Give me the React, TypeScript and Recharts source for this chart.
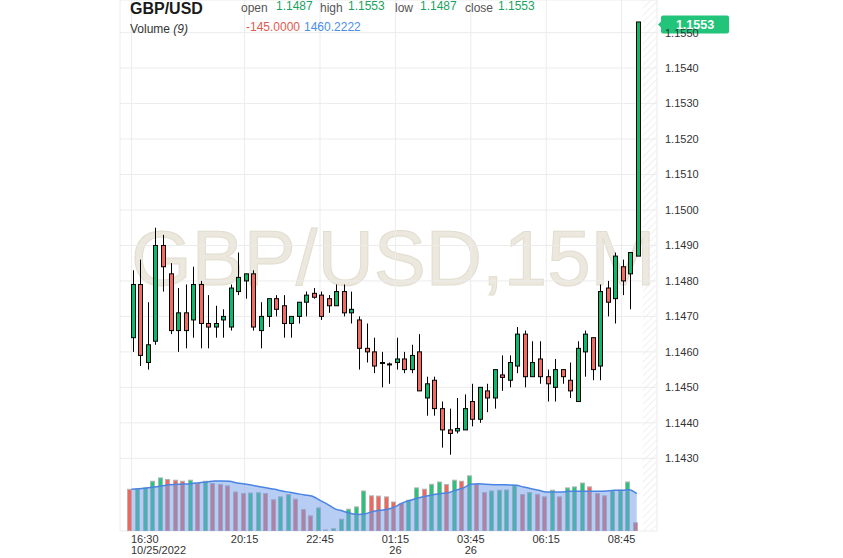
import { ComposedChart, Bar, Area, XAxis, YAxis, CartesianGrid, ReferenceLine, ReferenceArea } from "recharts";

// GBP/USD 15M candles, 16:30 10/25 -> 09:15 10/26
const opens = [
  1.1464, 1.1479, 1.1457, 1.1463, 1.149, 1.1482, 1.1466, 1.1471, 1.1469, 1.1479,
  1.1468, 1.1467, 1.1469, 1.1467, 1.1477, 1.148, 1.1482, 1.1466, 1.147, 1.1475,
  1.1473, 1.1468, 1.147, 1.1474, 1.14765, 1.1476, 1.1475, 1.1473, 1.1477, 1.1471,
  1.1469, 1.1461, 1.146, 1.1457, 1.14566, 1.1457, 1.1458, 1.1455, 1.146, 1.1447,
  1.1452, 1.1444, 1.1438, 1.14377, 1.1438, 1.1446, 1.1441, 1.1449, 1.1447, 1.14535,
  1.1452, 1.1456, 1.1465, 1.1453, 1.1458, 1.1453, 1.145, 1.1455, 1.1452, 1.1446,
  1.146, 1.1464, 1.1456, 1.1478, 1.1475, 1.1484, 1.1482, 1.1487,
];
const highs = [
  1.1483, 1.1486, 1.1474, 1.1495, 1.1493, 1.1485, 1.1478, 1.1479, 1.1484, 1.148,
  1.1476, 1.1473, 1.1472, 1.1479, 1.1488, 1.1482, 1.1483, 1.1474, 1.1475, 1.1476,
  1.1476, 1.147, 1.1474, 1.1477, 1.1478, 1.1477, 1.1476, 1.1479, 1.1479, 1.1477,
  1.147, 1.1468, 1.1464, 1.146, 1.1457, 1.1464, 1.146, 1.1462, 1.1465, 1.1453,
  1.1453, 1.1446, 1.1444, 1.1447, 1.1448, 1.1451, 1.145, 1.1451, 1.1455, 1.1459,
  1.1459, 1.1467, 1.1466, 1.1463, 1.1463, 1.1455, 1.1458, 1.1455, 1.1457, 1.1463,
  1.1466, 1.1464, 1.1479, 1.148, 1.1488, 1.1486, 1.1488, 1.1553,
];
const lows = [
  1.146, 1.1456, 1.1455, 1.1462, 1.1477, 1.1465, 1.146, 1.1461, 1.1464, 1.1461,
  1.1461, 1.1464, 1.1464, 1.1466, 1.1476, 1.1475, 1.1466, 1.1461, 1.1467, 1.147,
  1.1464, 1.1464, 1.1468, 1.147, 1.1475, 1.1469, 1.1471, 1.1473, 1.147, 1.1468,
  1.1455, 1.1457, 1.1454, 1.145, 1.1451, 1.1455, 1.1454, 1.1454, 1.1449, 1.1442,
  1.1442, 1.1433, 1.1431, 1.1437, 1.1438, 1.1439, 1.144, 1.1443, 1.1444, 1.1449,
  1.145, 1.1454, 1.145, 1.1453, 1.1451, 1.1446, 1.1446, 1.1451, 1.1447, 1.1446,
  1.1453, 1.1452, 1.1452, 1.147, 1.1468, 1.1476, 1.1472, 1.1487,
];
const closes = [
  1.1479, 1.1459, 1.1462, 1.149, 1.1484, 1.1466, 1.1471, 1.1466, 1.1479, 1.1468,
  1.1467, 1.1468, 1.147, 1.1478, 1.1481, 1.1482, 1.1467, 1.147, 1.1475, 1.1472,
  1.1468, 1.147, 1.1474, 1.1476, 1.14754, 1.147, 1.1473, 1.1477, 1.1471, 1.1472,
  1.1461, 1.146, 1.1456, 1.1457, 1.14565, 1.1458, 1.1455, 1.1459, 1.1449, 1.1451,
  1.1444, 1.1438, 1.1437, 1.14384, 1.1444, 1.1441, 1.145, 1.1447, 1.1455, 1.14528,
  1.1457, 1.1465, 1.1453, 1.1457, 1.1453, 1.1451, 1.1455, 1.1453, 1.1449, 1.1461,
  1.1465, 1.1455, 1.1477, 1.1474, 1.1487, 1.148, 1.1488, 1.1553,
];
const volumes = [
  1625, 1640, 1680, 1940, 2070, 2010, 1980, 1940, 1980, 1850,
  1940, 1850, 1810, 1760, 1520, 1460, 1480, 1490, 1460, 1220,
  1330, 1420, 1240, 830, 590, 900, 40, 90, 460, 850,
  940, 1560, 1370, 1360, 1330, 1130, 1070, 1200, 1680, 1630,
  1820, 1910, 1810, 1980, 1940, 2150, 1820, 1500, 1560, 1590,
  1600, 1780, 1420, 1500, 1430, 1330, 1590, 1330, 1680, 1720,
  1870, 1720, 1460, 1370, 1560, 1590, 1910, 320,
];
const volumeMa = [
  1625, 1651, 1677, 1716, 1755, 1807, 1820, 1833, 1846, 1885,
  1911, 1950, 1950, 1937, 1872, 1833, 1781, 1729, 1677, 1625,
  1560, 1508, 1456, 1404, 1352, 1196, 1040, 860, 780, 690,
  640, 670, 760, 806, 845, 950, 1105, 1196, 1287, 1352,
  1417, 1456, 1495, 1586, 1677, 1820, 1846, 1820, 1807, 1807,
  1794, 1781, 1716, 1651, 1586, 1521, 1521, 1521, 1547, 1547,
  1547, 1547, 1547, 1560, 1586, 1586, 1612, 1460,
];
const prevVolume = 1690;

const tickIndexes = [0, 15, 25, 35, 45, 55, 65];
const tickTimes = ["16:30", "20:15", "22:45", "01:15", "03:45", "06:15", "08:45"];
const tickDates = ["10/25/2022", "", "", "26", "26", "", ""];
const priceTicks = [1.143, 1.144, 1.145, 1.146, 1.147, 1.148, 1.149, 1.15, 1.151, 1.152, 1.153, 1.154, 1.155];

const FONT = "'Liberation Sans', Arial, sans-serif";
const GREEN = "#0cb86c";
const RED = "#f16b60";
const VOL_GREEN = "#22c77a";
const VOL_RED = "#f4665a";
const X_DOMAIN = [-1.525, 69.69];
const VOL_DOMAIN = [0, 20700];

const data = opens.map((o, i) => ({
  i,
  open: o,
  high: highs[i],
  low: lows[i],
  close: closes[i],
  volume: volumes[i],
  volUp: volumes[i] >= (i === 0 ? prevVolume : volumes[i - 1]),
  volMa: volumeMa[i],
}));

const last = data[data.length - 1];

function Candle(props: any) {
  const { x, y, width, height, payload } = props;
  const { open, high, low, close } = payload;
  const top = Math.min(y, y + height);
  const span = Math.abs(height);
  const k = high > low ? span / (high - low) : 0;
  const py = (p: number) => top + (high - p) * k;
  const bTop = py(Math.max(open, close));
  const bH = Math.max(1, py(Math.min(open, close)) - bTop);
  const cx = Math.round(x + width / 2) + 0.5;
  return (
    <g>
      <line x1={cx} x2={cx} y1={top} y2={top + span} stroke="#000" strokeWidth={1} />
      <rect x={cx - 2} y={bTop} width={4} height={bH} fill={close >= open ? GREEN : RED} stroke="#000" strokeWidth={1} />
    </g>
  );
}

function VolBar(props: any) {
  const { x, y, width, height, payload } = props;
  const cx = Math.round(x + width / 2) + 0.5;
  return (
    <rect x={cx - 2} y={y} width={4} height={height} fill={payload.volUp ? VOL_GREEN : VOL_RED} stroke="#b4b4b4" strokeWidth={1} />
  );
}

function TimeTick(props: any) {
  const { x, y, payload } = props;
  const k = tickIndexes.indexOf(payload.value);
  const first = k === 0;
  const tx = first ? x - 0.5 : x;
  return (
    <text x={tx} y={y} textAnchor={first ? "start" : "middle"} fontSize={11} fill="#333" fontFamily={FONT}>
      <tspan x={tx} dy={3.8}>{tickTimes[k]}</tspan>
      {tickDates[k] ? <tspan x={tx} dy={11}>{tickDates[k]}</tspan> : null}
    </text>
  );
}

function PriceTag(props: any) {
  const { viewBox } = props;
  const x = viewBox.x + viewBox.width + 4;
  const cy = viewBox.y + 2.5;
  return (
    <g>
      <path d={`M${x - 3} ${cy} L${x} ${cy - 3} L${x} ${cy + 3} Z`} fill="#22c47a" />
      <rect x={x} y={cy - 9} width={68} height={18} rx={2} fill="#22c47a" />
      <text x={x + 34} y={cy + 4.5} textAnchor="middle" fontSize={12.5} fontWeight="bold" fill="#fff" fontFamily={FONT}>
        {last.close.toFixed(4)}
      </text>
    </g>
  );
}

export default function App() {
  return (
    <div style={{ position: "absolute", left: 0, top: 0, width: 843, height: 558, background: "#fff", fontFamily: FONT }}>
      <svg width={843} height={558} style={{ position: "absolute", left: 0, top: 0 }}>
        <text x={131} y={285} fontSize={78} fill="#ece8dd" stroke="#e2ddd0" strokeWidth={1} fontFamily={FONT}>
          GBP/USD,15M
        </text>
      </svg>
      <div style={{ position: "absolute", left: 0, top: 0 }}>
        <ComposedChart width={843} height={558} data={data} margin={{ top: 0, right: 126, left: 120, bottom: 0 }}>
          <defs>
            <pattern id="hatch" width={5} height={5} patternUnits="userSpaceOnUse" patternTransform="rotate(45)">
              <line x1={0} y1={0} x2={0} y2={5} stroke="#ebebeb" strokeWidth={1.5} />
            </pattern>
          </defs>
          <CartesianGrid stroke="#ececec" yAxisId="price" />
          <XAxis
            dataKey="i"
            type="number"
            domain={X_DOMAIN}
            allowDataOverflow
            ticks={tickIndexes}
            interval={0}
            tick={<TimeTick />}
            axisLine={false}
            tickLine={false}
            height={27}
          />
          <YAxis
            yAxisId="price"
            orientation="right"
            domain={[1.14095, 1.15592]}
            allowDataOverflow
            ticks={priceTicks}
            interval={0}
            tickFormatter={(v: number) => v.toFixed(4)}
            axisLine={false}
            tickLine={false}
            width={60}
            tick={{ fontSize: 11, fill: "#333", fontFamily: FONT }}
          />
          <YAxis yAxisId="vol" hide domain={VOL_DOMAIN} allowDataOverflow />
          <ReferenceArea yAxisId="price" x1={67.8} x2={69.69} fill="url(#hatch)" fillOpacity={1} stroke="none" ifOverflow="visible" />
          <Bar yAxisId="vol" dataKey="volume" barSize={5} shape={<VolBar />} isAnimationActive={false} />
          <Bar
            yAxisId="price"
            dataKey={(d: any) => [d.low, d.high]}
            barSize={5}
            shape={<Candle />}
            isAnimationActive={false}
          />
          <ReferenceLine yAxisId="price" y={last.close} stroke="none" label={<PriceTag />} ifOverflow="visible" />
        </ComposedChart>
      </div>
      {/* volume moving average drawn over the volume bars */}
      <div style={{ position: "absolute", left: 0, top: 0, pointerEvents: "none" }}>
        <ComposedChart width={843} height={558} data={data} margin={{ top: 0, right: 186, left: 120, bottom: 27 }}>
          <XAxis dataKey="i" type="number" domain={X_DOMAIN} allowDataOverflow hide />
          <YAxis yAxisId="vol" hide domain={VOL_DOMAIN} allowDataOverflow />
          <Area
            yAxisId="vol"
            type="monotone"
            dataKey="volMa"
            stroke="#4a84e3"
            strokeWidth={1.5}
            fill="#6f9be9"
            fillOpacity={0.5}
            dot={false}
            activeDot={false}
            isAnimationActive={false}
          />
        </ComposedChart>
      </div>
      <svg width={843} height={40} style={{ position: "absolute", left: 0, top: 0, pointerEvents: "none" }}>
        <text x={130} y={13.5} fontSize={16} fontWeight="bold" fill="#1a1a1a" fontFamily={FONT}>GBP/USD</text>
        <text x={241} y={11.5} fontSize={12} fill="#555" fontFamily={FONT}>open</text>
        <text x={276} y={9.5} fontSize={12} fill="#1aa260" fontFamily={FONT}>{last.open.toFixed(4)}</text>
        <text x={320} y={11.5} fontSize={12} fill="#555" fontFamily={FONT}>high</text>
        <text x={348} y={9.5} fontSize={12} fill="#1aa260" fontFamily={FONT}>{last.high.toFixed(4)}</text>
        <text x={395} y={11.5} fontSize={12} fill="#555" fontFamily={FONT}>low</text>
        <text x={420} y={9.5} fontSize={12} fill="#1aa260" fontFamily={FONT}>{last.low.toFixed(4)}</text>
        <text x={465} y={11.5} fontSize={12} fill="#555" fontFamily={FONT}>close</text>
        <text x={498} y={9.5} fontSize={12} fill="#1aa260" fontFamily={FONT}>{last.close.toFixed(4)}</text>
        <text x={130} y={33} fontSize={12} fill="#333" fontFamily={FONT}>
          Volume <tspan fontStyle="italic">(9)</tspan>
        </text>
        <text x={246} y={31} fontSize={12} fill="#e05a4f" fontFamily={FONT}>-145.0000</text>
        <text x={304} y={31} fontSize={12} fill="#4a8ee6" fontFamily={FONT}>1460.2222</text>
      </svg>
    </div>
  );
}
